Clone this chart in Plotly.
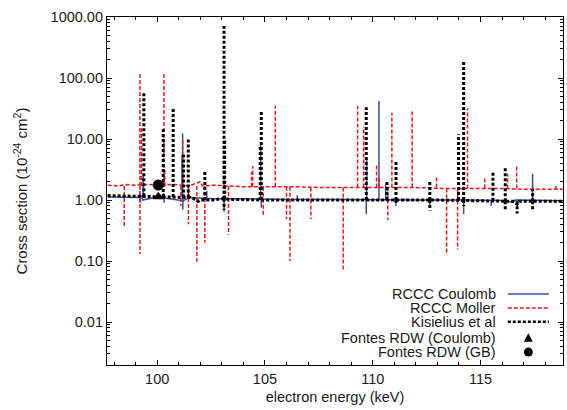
import plotly.graph_objects as go

# ---------------- data ----------------
# Each series: a slowly varying background (energy, value) and narrow
# resonances (energy, background value at that energy, peak/dip value).

# RCCC Coulomb (blue solid)
coul_base_e = [97.7, 99.2, 99.3, 99.32, 100.0, 101.2, 101.5, 102.6, 104.0, 106.0, 108.0,
               110.0, 112.0, 114.0, 116.0, 116.5, 116.6, 118.83]
coul_base_v = [1.12, 1.1, 1.18, 1.0, 1.12, 0.97, 1.1, 1.05, 1.05, 1.02, 1.02,
               1.0, 1.0, 1.0, 0.98, 0.92, 1.0, 0.97]
coul_res_e = [99.2, 99.22, 99.35, 100.3, 100.32, 101.15, 101.18, 101.19, 102.3, 103.1,
              104.8, 104.83, 106.5, 109.7, 109.72, 110.29, 110.6, 111.08, 112.65, 114.22,
              115.5, 117.42]
coul_res_b = [1.1, 1.1, 1.12, 1.12, 1.12, 1.1, 1.1, 1.1, 1.05, 1.05,
              1.05, 1.05, 1.02, 1.0, 1.0, 1.0, 1.0, 1.0, 1.0, 1.0,
              0.98, 0.97]
coul_res_v = [1.4, 0.9, 2.5, 1.3, 0.9, 5.5, 12.4, 0.7, 1.4, 0.64,
              8.0, 0.75, 1.2, 0.59, 5.0, 42.0, 1.8, 0.8, 0.75, 0.59,
              0.8, 2.7]

# RCCC Moller (red dashed)
moll_base_e = [97.7, 98.2, 98.6, 98.9, 99.6, 100.0, 100.8, 101.5, 102.0, 102.1, 102.6,
               103.5, 104.0, 105.0, 106.5, 107.5, 110.0, 112.0, 113.2, 116.0, 117.0, 118.83]
moll_base_v = [1.75, 1.7, 1.8, 1.75, 1.8, 1.75, 1.8, 1.7, 2.0, 1.7, 1.75,
               1.7, 1.65, 1.65, 1.65, 1.6, 1.6, 1.6, 1.55, 1.55, 1.5, 1.5]
moll_res_e = [98.47, 99.2, 99.2, 99.27, 100.31, 100.35, 101.1, 101.18, 101.45, 101.84,
              102.21, 103.1, 103.31, 104.38, 104.43, 104.92, 105.48, 106.0, 106.16, 107.13,
              108.63, 109.3, 109.58, 110.18, 110.3, 110.7, 110.89, 111.83, 112.96, 113.43,
              113.94, 114.4, 115.2, 116.26, 116.68, 117.42, 118.5]
moll_res_b = [1.7, 1.7, 1.7, 1.7, 1.7, 1.7, 1.7, 1.7, 1.7, 1.7,
              1.7, 1.7, 1.7, 1.65, 1.65, 1.65, 1.65, 1.65, 1.65, 1.6,
              1.6, 1.6, 1.6, 1.6, 1.6, 1.6, 1.6, 1.6, 1.6, 1.55,
              1.55, 1.55, 1.55, 1.55, 1.55, 1.5, 1.5]
moll_res_v = [0.36, 122.0, 0.13, 15.0, 115.0, 3.2, 0.8, 9.5, 0.4, 0.097,
              0.2, 2.6, 0.27, 2.9, 3.6, 0.53, 35.0, 0.49, 0.1, 0.49,
              0.067, 35.0, 16.0, 3.8, 2.4, 0.47, 27.0, 30.0, 2.5, 0.125,
              0.155, 32.0, 2.3, 2.7, 3.7, 1.8, 1.7]

# Kisielius et al (black dotted)
kis_base_e = [97.7, 99.6, 100.5, 101.5, 101.7, 101.9, 102.0, 102.6, 103.0, 103.5, 105.0,
              110.0, 113.0, 115.0, 116.5, 116.7, 116.8, 118.83]
kis_base_v = [1.18, 1.12, 1.12, 1.1, 1.05, 0.95, 1.0, 1.0, 1.05, 1.02, 1.0,
              1.0, 1.0, 0.97, 0.95, 0.85, 0.95, 0.95]
kis_res_e = [99.38, 100.28, 100.74, 101.22, 101.44, 102.21, 103.1, 103.1, 103.13, 104.78,
             104.83, 109.7, 110.66, 111.08, 111.08, 112.65, 112.65, 113.98, 114.22, 114.22,
             115.58, 116.15, 116.15, 116.7, 117.42, 117.42]
kis_res_b = [1.15, 1.12, 1.12, 1.1, 1.1, 1.0, 1.05, 1.05, 1.05, 1.0,
             1.0, 1.0, 1.0, 1.0, 1.0, 1.0, 1.0, 1.0, 1.0, 1.0,
             0.97, 0.95, 0.95, 0.95, 0.95, 0.95]
kis_res_v = [57.0, 14.5, 33.0, 5.5, 10.0, 3.0, 710.0, 0.69, 9.8, 7.5,
             28.0, 33.0, 2.0, 4.4, 0.9, 2.1, 0.67, 12.0, 190.0, 0.8,
             2.85, 3.3, 0.7, 0.6, 1.5, 0.7]

# Fontes RDW points
fontes_coul_e = [100.05]
fontes_coul_v = [1.13]
fontes_gb_e = [100.05]
fontes_gb_v = [1.76]

y_tickvals = [0.01, 0.1, 1, 10, 100, 1000]
y_ticktext = ["0.01", "0.10", "1.00", "10.00", "100.00", "1000.00"]
x_tickvals = [100, 105, 110, 115]

legend_labels = ["RCCC Coulomb", "RCCC Moller", "Kisielius et al",
                 "Fontes RDW (Coulomb)", "Fontes RDW (GB)"]

BLUE = "#3050a0"
RED = "#e8191e"
BLACK = "#000000"
TXT = "#1a1a1a"
FONT = "Liberation Sans, Arial, sans-serif"
RED_DASH = "4px,2px"
BLK_DASH = "3px,2px"


def build(base_e, base_v, res_e, res_b, res_v):
    """Background line followed by separate vertical resonance segments."""
    xs, ys = list(base_e), list(base_v)
    for e, b, v in zip(res_e, res_b, res_v):
        xs += [None, e, e]
        ys += [None, b, v]
    return xs, ys


fig = go.Figure()
cx, cy = build(coul_base_e, coul_base_v, coul_res_e, coul_res_b, coul_res_v)
fig.add_trace(go.Scatter(x=cx, y=cy, mode="lines", connectgaps=False,
                         line=dict(color=BLUE, width=1.5), showlegend=False))
mxs, mys = build(moll_base_e, moll_base_v, moll_res_e, moll_res_b, moll_res_v)
fig.add_trace(go.Scatter(x=mxs, y=mys, mode="lines", connectgaps=False,
                         line=dict(color=RED, width=1.5, dash=RED_DASH), showlegend=False))
kx, ky = build(kis_base_e, kis_base_v, kis_res_e, kis_res_b, kis_res_v)
fig.add_trace(go.Scatter(x=kx, y=ky, mode="lines", connectgaps=False,
                         line=dict(color=BLACK, width=3, dash=BLK_DASH), showlegend=False))
fig.add_trace(go.Scatter(x=fontes_coul_e, y=fontes_coul_v, mode="markers",
                         marker=dict(symbol="triangle-up", size=10, color=BLACK), showlegend=False))
fig.add_trace(go.Scatter(x=fontes_gb_e, y=fontes_gb_v, mode="markers",
                         marker=dict(symbol="circle", size=11, color=BLACK), showlegend=False))

# minor log ticks
minor_y = []
for dec in [0.001, 0.01, 0.1, 1, 10, 100]:
    for m in range(2, 10):
        v = m * dec
        if 0.00197 <= v <= 1000:
            minor_y.append(v)

# manual gnuplot-style legend (text on the left, sample on the right)
rows_y = [0.204, 0.164, 0.124, 0.078, 0.037]
text_x = 0.857
s0, s1 = 0.879, 0.969
mx = 0.924
annotations = []
for lab, yy in zip(legend_labels, rows_y):
    annotations.append(dict(x=text_x, y=yy, xref="paper", yref="paper", text=lab,
                            showarrow=False, xanchor="right", yanchor="middle",
                            font=dict(family=FONT, size=14.5, color=TXT)))
shapes = [
    dict(type="line", xref="paper", yref="paper", x0=s0, x1=s1, y0=rows_y[0], y1=rows_y[0],
         line=dict(color=BLUE, width=1.5)),
    dict(type="line", xref="paper", yref="paper", x0=s0, x1=s1, y0=rows_y[1], y1=rows_y[1],
         line=dict(color=RED, width=1.5, dash=RED_DASH)),
    dict(type="line", xref="paper", yref="paper", x0=s0, x1=s1, y0=rows_y[2], y1=rows_y[2],
         line=dict(color=BLACK, width=2.5, dash=BLK_DASH)),
    dict(type="path", xref="paper", yref="paper", xsizemode="pixel", ysizemode="pixel",
         xanchor=mx, yanchor=rows_y[3], path="M -4.5,-4 L 4.5,-4 L 0,4.5 Z",
         fillcolor=BLACK, line=dict(width=0)),
    dict(type="circle", xref="paper", yref="paper", xsizemode="pixel", ysizemode="pixel",
         xanchor=mx, yanchor=rows_y[4], x0=-4.5, x1=4.5, y0=-4.5, y1=4.5,
         fillcolor=BLACK, line=dict(width=0)),
]

fig.update_layout(
    width=567, height=410,
    margin=dict(l=107, r=4, t=17, b=45),
    paper_bgcolor="white", plot_bgcolor="white",
    font=dict(family=FONT, size=14.5, color=TXT),
    annotations=annotations, shapes=shapes,
    xaxis=dict(range=[97.67, 118.83], tickvals=x_tickvals, ticks="inside", ticklen=5,
               tickcolor="black", showline=True, linecolor="black", linewidth=1.2,
               mirror="allticks", showgrid=False, zeroline=False,
               minor=dict(dtick=1, ticks="inside", ticklen=3, tickcolor="black", showgrid=False),
               title=dict(text="electron energy (keV)", standoff=6, font=dict(size=14.5))),
    yaxis=dict(type="log", range=[-2.705, 3.0], tickvals=y_tickvals, ticktext=y_ticktext,
               ticks="inside", ticklen=5, tickcolor="black", showline=True, linecolor="black",
               linewidth=1.2, mirror="allticks", showgrid=False, zeroline=False,
               minor=dict(tickvals=minor_y, ticks="inside", ticklen=3, tickcolor="black",
                          showgrid=False),
               title=dict(text="Cross section (10<sup>-24</sup> cm<sup>2</sup>)", standoff=19,
                          font=dict(size=15))),
)

fig.write_html("out.html", config={"displayModeBar": False},
               post_script="document.body.style.margin='0';document.body.style.overflow='hidden';")
